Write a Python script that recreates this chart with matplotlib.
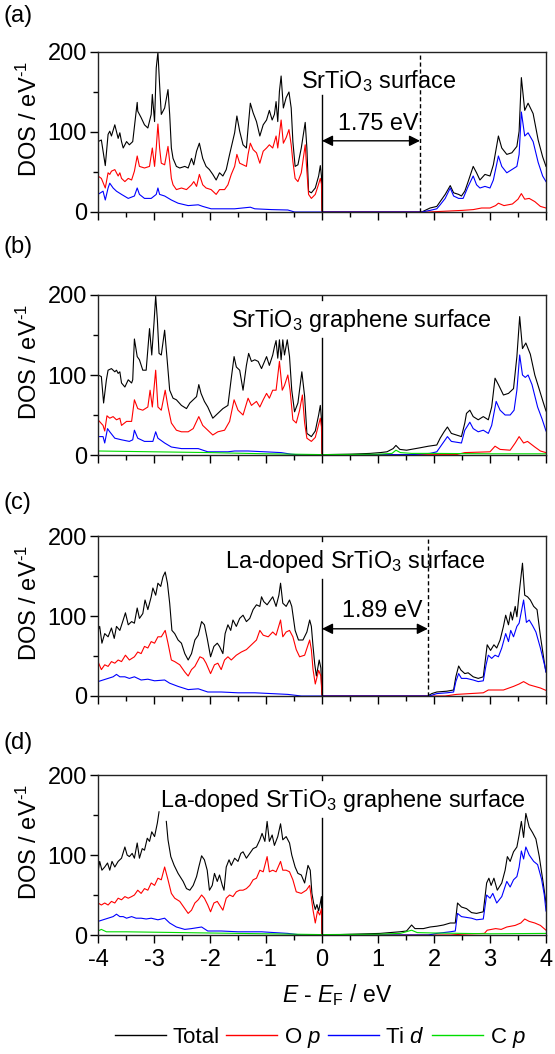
import numpy as np
import matplotlib
matplotlib.use("Agg")
import matplotlib.pyplot as plt
from matplotlib.ticker import MultipleLocator
from matplotlib.lines import Line2D

plt.rcParams['font.family'] = ['Liberation Sans', 'DejaVu Sans']
plt.rcParams['mathtext.fontset'] = 'custom'
plt.rcParams['mathtext.rm'] = 'Liberation Sans'
plt.rcParams['mathtext.it'] = 'Liberation Sans:italic'
plt.rcParams['mathtext.bf'] = 'Liberation Sans:bold'
plt.rcParams['axes.unicode_minus'] = False

nan = np.nan

# ---------------- data: (E - E_F [eV], DOS [1/eV]) ----------------
# (a) SrTiO3 surface
a_total = [(-4.00, 88), (-3.94, 90), (-3.87, 58), (-3.82, 97), (-3.79, 101), (-3.76, 95), (-3.70, 109),
           (-3.64, 92), (-3.61, 99), (-3.58, 88), (-3.55, 80), (-3.49, 88), (-3.44, 84), (-3.38, 88),
           (-3.30, 137), (-3.29, 126), (-3.23, 118), (-3.17, 109), (-3.11, 105), (-3.05, 122), (-3.03, 147),
           (-2.99, 113), (-2.96, 180), (-2.93, 200), (-2.90, 159), (-2.87, 122), (-2.81, 130), (-2.75, 153),
           (-2.72, 122), (-2.69, 80), (-2.66, 67), (-2.60, 57), (-2.54, 55), (-2.45, 57), (-2.39, 55),
           (-2.33, 67), (-2.29, 59), (-2.24, 76), (-2.19, 86), (-2.13, 67), (-2.07, 57), (-2.01, 53),
           (-1.95, 47), (-1.89, 40), (-1.83, 49), (-1.77, 45), (-1.71, 53), (-1.65, 72), (-1.61, 84),
           (-1.56, 99), (-1.52, 120), (-1.47, 101), (-1.41, 84), (-1.35, 80), (-1.32, 105), (-1.28, 136),
           (-1.23, 124), (-1.17, 113), (-1.11, 95), (-1.05, 109), (-0.99, 115), (-0.94, 127), (-0.89, 115),
           (-0.85, 122), (-0.82, 138), (-0.79, 113), (-0.76, 151), (-0.73, 170), (-0.69, 130), (-0.64, 143),
           (-0.59, 150), (-0.55, 130), (-0.52, 88), (-0.48, 57), (-0.43, 59), (-0.37, 80), (-0.30, 112),
           (-0.27, 80), (-0.24, 26), (-0.19, 24), (-0.12, 30), (-0.06, 45), (-0.03, 58), (-0.01, 45),
           (0.00, 0), (1.78, 0), (1.93, 5), (2.05, 7), (2.11, 13), (2.20, 22), (2.29, 33), (2.35, 24),
           (2.44, 22), (2.49, 20), (2.55, 26), (2.61, 38), (2.70, 57), (2.76, 49), (2.82, 40), (2.91, 47),
           (3.00, 45), (3.06, 59), (3.15, 95), (3.21, 80), (3.30, 72), (3.39, 74), (3.48, 82), (3.52, 101),
           (3.56, 168), (3.62, 127), (3.68, 136), (3.77, 123), (3.86, 90), (3.94, 69), (4.00, 57)]
a_op = [(-4.00, 45), (-3.94, 42), (-3.87, 30), (-3.82, 49), (-3.79, 47), (-3.76, 51), (-3.70, 53),
        (-3.64, 45), (-3.61, 49), (-3.58, 42), (-3.52, 38), (-3.46, 42), (-3.40, 40), (-3.35, 51),
        (-3.30, 70), (-3.26, 57), (-3.17, 55), (-3.08, 57), (-3.03, 80), (-2.99, 57), (-2.96, 80),
        (-2.93, 110), (-2.90, 80), (-2.87, 61), (-2.81, 59), (-2.75, 82), (-2.72, 63), (-2.69, 42),
        (-2.66, 34), (-2.60, 28), (-2.51, 30), (-2.42, 28), (-2.33, 34), (-2.29, 38), (-2.24, 32),
        (-2.19, 47), (-2.13, 34), (-2.07, 30), (-1.98, 28), (-1.89, 22), (-1.83, 28), (-1.74, 28),
        (-1.68, 34), (-1.62, 47), (-1.56, 57), (-1.52, 72), (-1.47, 61), (-1.41, 59), (-1.35, 57),
        (-1.32, 72), (-1.28, 86), (-1.23, 78), (-1.17, 74), (-1.11, 61), (-1.05, 76), (-0.99, 80),
        (-0.94, 84), (-0.88, 80), (-0.82, 95), (-0.79, 80), (-0.73, 115), (-0.69, 86), (-0.64, 93),
        (-0.59, 103), (-0.55, 84), (-0.52, 63), (-0.48, 42), (-0.43, 38), (-0.37, 49), (-0.30, 84),
        (-0.27, 51), (-0.24, 22), (-0.19, 17), (-0.12, 22), (-0.06, 35), (-0.03, 42), (-0.01, 35),
        (0.00, 0), (1.90, 0), (2.20, 1), (2.50, 2), (2.70, 3), (2.85, 5), (3.00, 5), (3.10, 8),
        (3.15, 11), (3.25, 8), (3.40, 10), (3.50, 16), (3.56, 23), (3.62, 16), (3.70, 17), (3.80, 13),
        (3.90, 7), (4.00, 5)]
a_tid = [(-4.00, 22), (-3.91, 26), (-3.87, 15), (-3.82, 30), (-3.79, 36), (-3.73, 30), (-3.67, 26),
         (-3.58, 22), (-3.46, 17), (-3.35, 20), (-3.30, 30), (-3.26, 22), (-3.17, 17), (-3.05, 17),
         (-2.96, 22), (-2.93, 30), (-2.90, 22), (-2.81, 20), (-2.69, 15), (-2.57, 11), (-2.39, 8),
         (-2.21, 9), (-2.13, 7), (-1.98, 4), (-1.80, 4), (-1.56, 4), (-1.28, 6), (-1.20, 4), (-0.90, 3),
         (-0.61, 2.5), (-0.49, 0), (1.78, 0), (1.93, 2), (2.05, 4), (2.11, 9), (2.20, 17), (2.29, 30),
         (2.35, 20), (2.44, 17), (2.52, 17), (2.61, 32), (2.70, 45), (2.76, 34), (2.82, 30), (2.91, 32),
         (3.00, 30), (3.06, 40), (3.15, 70), (3.21, 57), (3.30, 49), (3.39, 53), (3.48, 57), (3.52, 72),
         (3.56, 125), (3.62, 95), (3.68, 99), (3.77, 88), (3.86, 62), (3.94, 45), (4.00, 38)]

# (b) SrTiO3 graphene surface
b_total = [(-4.00, 100), (-3.94, 98), (-3.90, 65), (-3.85, 94), (-3.82, 106), (-3.76, 108), (-3.70, 104),
           (-3.67, 106), (-3.64, 102), (-3.61, 104), (-3.58, 90), (-3.52, 85), (-3.46, 94), (-3.40, 90),
           (-3.38, 94), (-3.35, 145), (-3.30, 123), (-3.26, 119), (-3.20, 106), (-3.14, 106), (-3.08, 158),
           (-3.04, 125), (-3.00, 165), (-2.97, 199), (-2.94, 169), (-2.91, 127), (-2.87, 125), (-2.81, 156),
           (-2.77, 123), (-2.72, 81), (-2.66, 71), (-2.60, 69), (-2.51, 62), (-2.42, 58), (-2.36, 65),
           (-2.30, 69), (-2.24, 73), (-2.20, 88), (-2.16, 77), (-2.10, 67), (-2.04, 60), (-1.95, 46),
           (-1.86, 52), (-1.77, 58), (-1.68, 62), (-1.62, 96), (-1.57, 123), (-1.53, 110), (-1.47, 106),
           (-1.41, 81), (-1.35, 112), (-1.31, 127), (-1.26, 117), (-1.20, 119), (-1.14, 117), (-1.08, 108),
           (-0.99, 123), (-0.94, 112), (-0.88, 125), (-0.85, 135), (-0.82, 143), (-0.79, 121), (-0.76, 144),
           (-0.73, 119), (-0.70, 144), (-0.67, 125), (-0.62, 144), (-0.58, 123), (-0.54, 81), (-0.49, 54),
           (-0.43, 65), (-0.36, 104), (-0.31, 73), (-0.27, 27), (-0.19, 23), (-0.12, 30), (-0.06, 50),
           (-0.03, 62), (-0.01, 45), (0.00, 0), (0.05, 0.5), (0.50, 1), (0.86, 2), (1.04, 3), (1.16, 4),
           (1.27, 8), (1.32, 12), (1.39, 7), (1.51, 6), (1.63, 7.5), (1.75, 9), (1.90, 11), (2.05, 12.5),
           (2.11, 21), (2.18, 29), (2.24, 35), (2.31, 27), (2.40, 25), (2.49, 23), (2.55, 40), (2.58, 52),
           (2.64, 56), (2.70, 48), (2.79, 44), (2.88, 48), (2.97, 44), (3.03, 60), (3.09, 96), (3.15, 88),
           (3.24, 75), (3.33, 77), (3.42, 83), (3.48, 123), (3.53, 173), (3.58, 133), (3.64, 140),
           (3.72, 126), (3.80, 100), (3.88, 82), (3.95, 66), (4.00, 55)]
b_op = [(-4.00, 44), (-3.91, 37), (-3.88, 30), (-3.84, 49), (-3.79, 46), (-3.73, 48), (-3.67, 44),
        (-3.61, 46), (-3.58, 37), (-3.49, 42), (-3.40, 42), (-3.35, 69), (-3.29, 58), (-3.20, 56),
        (-3.11, 60), (-3.07, 81), (-3.03, 60), (-2.97, 106), (-2.93, 60), (-2.87, 56), (-2.80, 81),
        (-2.75, 60), (-2.69, 40), (-2.60, 31), (-2.51, 29), (-2.39, 29), (-2.30, 33), (-2.20, 48),
        (-2.13, 37), (-2.04, 31), (-1.95, 25), (-1.86, 29), (-1.74, 31), (-1.65, 42), (-1.57, 69),
        (-1.50, 56), (-1.41, 50), (-1.32, 71), (-1.26, 62), (-1.17, 67), (-1.11, 60), (-1.05, 69),
        (-0.99, 77), (-0.94, 71), (-0.88, 81), (-0.82, 81), (-0.76, 117), (-0.71, 81), (-0.67, 87),
        (-0.61, 100), (-0.57, 81), (-0.52, 44), (-0.46, 40), (-0.40, 56), (-0.35, 75), (-0.31, 40),
        (-0.27, 21), (-0.19, 17), (-0.12, 22), (-0.06, 38), (-0.03, 46), (-0.01, 35), (0.00, 0),
        (2.40, 0.5), (2.55, 3), (3.00, 4), (3.09, 11), (3.18, 7), (3.36, 6), (3.45, 15), (3.52, 23),
        (3.60, 15), (3.67, 17), (3.80, 10), (3.90, 5), (4.00, 3)]
b_tid = [(-4.00, 23), (-3.91, 23), (-3.88, 15), (-3.83, 33), (-3.79, 29), (-3.70, 21), (-3.58, 19),
         (-3.44, 17), (-3.38, 19), (-3.35, 31), (-3.29, 21), (-3.17, 17), (-3.02, 17), (-2.97, 29),
         (-2.93, 21), (-2.81, 15), (-2.69, 10), (-2.51, 8), (-2.21, 8), (-2.04, 4), (-1.68, 4), (-1.56, 5),
         (-1.32, 5), (-1.02, 4), (-0.73, 3), (-0.55, 1), (-0.37, 0), (1.60, 0.5), (1.93, 2), (2.05, 4),
         (2.11, 10), (2.18, 17), (2.24, 23), (2.31, 17), (2.49, 15), (2.55, 31), (2.64, 41), (2.70, 33),
         (2.79, 29), (2.88, 31), (2.97, 27), (3.03, 37), (3.11, 67), (3.18, 56), (3.27, 50), (3.36, 50),
         (3.43, 56), (3.48, 81), (3.53, 125), (3.58, 100), (3.63, 97), (3.68, 100), (3.75, 88),
         (3.85, 60), (3.93, 45), (4.00, 30)]
b_cp = [(-4.00, 5), (-3.50, 4.5), (-3.00, 4), (-2.00, 3), (-1.00, 1.5), (0.00, 0.5), (1.00, 1),
        (1.25, 2), (1.32, 6), (1.40, 3), (1.60, 2), (2.00, 2), (3.00, 1.5), (4.00, 1.5)]

# (c) La-doped SrTiO3 surface
c_total = [(-4.00, 82), (-3.97, 87), (-3.93, 66), (-3.88, 78), (-3.82, 74), (-3.76, 85), (-3.71, 72),
           (-3.67, 87), (-3.61, 82), (-3.55, 95), (-3.51, 104), (-3.46, 89), (-3.40, 93), (-3.35, 91),
           (-3.30, 110), (-3.26, 97), (-3.20, 103), (-3.16, 120), (-3.11, 108), (-3.05, 124), (-3.02, 135),
           (-2.97, 126), (-2.93, 141), (-2.88, 137), (-2.84, 149), (-2.80, 155), (-2.76, 141), (-2.72, 116),
           (-2.68, 82), (-2.63, 78), (-2.57, 70), (-2.51, 66), (-2.45, 53), (-2.39, 45), (-2.33, 53),
           (-2.27, 70), (-2.21, 76), (-2.15, 93), (-2.10, 89), (-2.05, 72), (-1.99, 49), (-1.93, 62),
           (-1.87, 66), (-1.83, 62), (-1.77, 53), (-1.73, 78), (-1.68, 89), (-1.63, 82), (-1.59, 95),
           (-1.53, 87), (-1.47, 97), (-1.41, 101), (-1.35, 93), (-1.29, 97), (-1.23, 108), (-1.17, 114),
           (-1.11, 112), (-1.08, 124), (-1.04, 118), (-0.98, 114), (-0.92, 120), (-0.88, 124), (-0.82, 112),
           (-0.77, 126), (-0.74, 141), (-0.70, 116), (-0.64, 112), (-0.58, 120), (-0.54, 112), (-0.48, 82),
           (-0.42, 70), (-0.34, 70), (-0.27, 80), (-0.22, 95), (-0.19, 87), (-0.16, 62), (-0.13, 40),
           (-0.10, 25), (-0.05, 45), (-0.02, 35), (0.00, 0), (1.89, 0), (1.96, 3), (2.05, 5), (2.23, 6),
           (2.35, 7.5), (2.39, 24), (2.44, 37.5), (2.48, 32.5), (2.55, 28), (2.61, 29), (2.70, 24),
           (2.79, 22), (2.88, 24), (2.91, 41), (2.95, 64), (3.01, 57), (3.07, 64), (3.12, 60), (3.18, 70),
           (3.24, 87), (3.28, 101), (3.33, 89), (3.37, 105), (3.40, 95), (3.45, 112), (3.48, 99),
           (3.52, 128), (3.58, 166), (3.62, 126), (3.67, 124), (3.72, 120), (3.78, 112), (3.84, 108),
           (3.90, 75), (3.97, 42), (4.00, 30)]
c_op = [(-4.00, 43), (-3.94, 33), (-3.88, 39), (-3.82, 37), (-3.76, 43), (-3.70, 41), (-3.64, 45),
        (-3.58, 43), (-3.51, 51), (-3.44, 45), (-3.35, 49), (-3.29, 55), (-3.23, 53), (-3.17, 62),
        (-3.11, 60), (-3.05, 68), (-2.99, 66), (-2.93, 74), (-2.87, 74), (-2.80, 82), (-2.75, 66),
        (-2.69, 45), (-2.63, 43), (-2.54, 39), (-2.45, 30), (-2.39, 25), (-2.33, 33), (-2.27, 37),
        (-2.18, 49), (-2.12, 47), (-2.07, 41), (-1.99, 28), (-1.92, 39), (-1.86, 41), (-1.80, 33),
        (-1.74, 45), (-1.68, 49), (-1.62, 45), (-1.53, 51), (-1.44, 55), (-1.35, 58), (-1.26, 64),
        (-1.17, 70), (-1.11, 82), (-1.05, 76), (-0.96, 74), (-0.88, 80), (-0.82, 76), (-0.74, 95),
        (-0.70, 74), (-0.64, 80), (-0.58, 82), (-0.52, 74), (-0.46, 58), (-0.40, 49), (-0.31, 51),
        (-0.22, 70), (-0.19, 58), (-0.16, 33), (-0.12, 15), (-0.06, 32), (-0.02, 25), (0.00, 0),
        (2.20, 0), (2.40, 2), (2.64, 3), (2.88, 4), (2.97, 7.5), (3.24, 7.5), (3.42, 12), (3.52, 15),
        (3.60, 18), (3.70, 14), (3.80, 12), (3.90, 10), (4.00, 7)]
c_tid = [(-4.00, 18), (-3.91, 20), (-3.82, 22), (-3.73, 24), (-3.67, 27), (-3.61, 24), (-3.52, 24),
         (-3.44, 22), (-3.35, 24), (-3.23, 20), (-3.11, 21), (-2.99, 19), (-2.81, 20), (-2.72, 16),
         (-2.57, 12), (-2.39, 8), (-2.21, 9), (-2.04, 5), (-1.80, 5), (-1.50, 4), (-1.20, 4), (-0.90, 3),
         (-0.61, 2), (-0.37, 0), (1.89, 0), (1.96, 1), (2.05, 3), (2.23, 4), (2.35, 5), (2.39, 18),
         (2.44, 28), (2.49, 22), (2.58, 22), (2.70, 20), (2.79, 18), (2.88, 19), (2.93, 39), (2.97, 51),
         (3.03, 47), (3.09, 51), (3.15, 49), (3.21, 60), (3.28, 78), (3.33, 68), (3.37, 82), (3.42, 74),
         (3.48, 87), (3.52, 91), (3.60, 120), (3.65, 92), (3.70, 95), (3.76, 88), (3.82, 80), (3.90, 60),
         (3.97, 40), (4.00, 30)]

# (d) La-doped SrTiO3 graphene surface
d_total = [(-4.00, 79), (-3.97, 92), (-3.93, 81), (-3.88, 85), (-3.83, 90), (-3.79, 81), (-3.75, 92),
           (-3.70, 85), (-3.64, 92), (-3.58, 96), (-3.52, 110), (-3.48, 100), (-3.44, 98), (-3.39, 102),
           (-3.35, 96), (-3.30, 115), (-3.26, 96), (-3.21, 108), (-3.17, 106), (-3.12, 121), (-3.08, 117),
           (-3.04, 129), (-2.99, 123), (-2.94, 140), (-2.91, 154), (-2.85, nan), (-2.78, 142), (-2.75, 119),
           (-2.70, 98), (-2.64, 87), (-2.57, 77), (-2.48, 67), (-2.42, 58), (-2.36, 56), (-2.30, 62),
           (-2.24, 73), (-2.20, 85), (-2.15, 99), (-2.10, 94), (-2.05, 81), (-2.01, 56), (-1.96, 62),
           (-1.92, 77), (-1.87, 67), (-1.83, 75), (-1.78, 62), (-1.75, 56), (-1.71, 85), (-1.66, 94),
           (-1.62, 87), (-1.56, 96), (-1.50, 92), (-1.45, 102), (-1.41, 104), (-1.35, 96), (-1.29, 102),
           (-1.23, 108), (-1.17, 110), (-1.11, 119), (-1.07, 127), (-1.02, 117), (-0.98, 142), (-0.94, 117),
           (-0.89, 125), (-0.85, 112), (-0.79, 123), (-0.74, 139), (-0.70, 119), (-0.64, 123), (-0.58, 115),
           (-0.54, 100), (-0.48, 85), (-0.43, 77), (-0.37, 75), (-0.31, 65), (-0.25, 87), (-0.21, 81),
           (-0.18, 52), (-0.15, 40), (-0.12, 32), (-0.09, 38), (-0.06, 30), (-0.03, 40), (-0.01, 48),
           (0.00, 0), (0.30, 0.5), (1.04, 2), (1.21, 3), (1.39, 4), (1.51, 5), (1.60, 12.5), (1.66, 8),
           (1.81, 8), (1.93, 10), (2.05, 11), (2.17, 12.5), (2.29, 15), (2.38, 15), (2.42, 40), (2.49, 35),
           (2.58, 33), (2.67, 28), (2.76, 27), (2.88, 29), (2.94, 65), (2.98, 71), (3.02, 62), (3.07, 71),
           (3.13, 56), (3.21, 65), (3.27, 81), (3.31, 98), (3.36, 92), (3.42, 104), (3.48, 110),
           (3.52, 125), (3.56, 142), (3.60, 122), (3.64, 152), (3.70, 135), (3.76, 128), (3.82, 120),
           (3.88, 98), (3.95, 65), (4.00, 40)]
d_op = [(-4.00, 40), (-3.94, 37.5), (-3.88, 40), (-3.82, 37.5), (-3.76, 42), (-3.70, 40), (-3.64, 46),
        (-3.58, 44), (-3.52, 48), (-3.46, 46), (-3.40, 48), (-3.35, 50), (-3.29, 56), (-3.23, 52),
        (-3.17, 58), (-3.11, 56), (-3.05, 65), (-2.99, 62), (-2.93, 71), (-2.87, 69), (-2.81, 85),
        (-2.75, 69), (-2.69, 52), (-2.63, 46), (-2.54, 42), (-2.45, 33), (-2.39, 27), (-2.33, 31),
        (-2.27, 40), (-2.21, 44), (-2.15, 50), (-2.10, 46), (-2.04, 37.5), (-1.99, 29), (-1.93, 40),
        (-1.87, 42), (-1.83, 37.5), (-1.77, 31), (-1.71, 46), (-1.65, 50), (-1.59, 48), (-1.53, 54),
        (-1.47, 56), (-1.41, 56), (-1.35, 58), (-1.29, 62), (-1.23, 69), (-1.17, 71), (-1.11, 81),
        (-1.05, 79), (-0.98, 98), (-0.94, 79), (-0.88, 81), (-0.82, 79), (-0.74, 92), (-0.70, 81),
        (-0.64, 81), (-0.58, 79), (-0.52, 69), (-0.46, 54), (-0.37, 52), (-0.28, 56), (-0.22, 62),
        (-0.16, 31), (-0.12, 15), (-0.08, 30), (-0.04, 25), (-0.01, 33), (0.00, 0), (2.30, 0),
        (2.50, 1), (2.90, 2), (2.95, 6), (3.10, 8), (3.20, 7), (3.30, 10), (3.45, 12), (3.55, 15),
        (3.62, 20), (3.70, 17), (3.80, 15), (3.90, 12), (4.00, 6)]
d_tid = [(-4.00, 17), (-3.91, 19), (-3.82, 21), (-3.73, 23), (-3.67, 26), (-3.61, 23), (-3.55, 23),
         (-3.49, 21), (-3.40, 23), (-3.32, 21), (-3.23, 21), (-3.14, 20), (-3.05, 21), (-2.93, 19),
         (-2.81, 21), (-2.72, 15), (-2.60, 10), (-2.45, 7), (-2.33, 8), (-2.15, 10), (-2.04, 5),
         (-1.80, 5), (-1.50, 4), (-1.08, 4), (-0.85, 3), (-0.61, 2), (-0.37, 0), (1.90, 0), (2.05, 2),
         (2.29, 4), (2.38, 5), (2.42, 27), (2.49, 23), (2.58, 22), (2.67, 21), (2.76, 19), (2.88, 20),
         (2.94, 50), (3.00, 46), (3.05, 52), (3.12, 40), (3.21, 48), (3.30, 67), (3.36, 60), (3.42, 69),
         (3.48, 73), (3.52, 85), (3.56, 105), (3.60, 95), (3.64, 110), (3.70, 100), (3.78, 92),
         (3.85, 88), (3.92, 70), (3.97, 50), (4.00, 30)]
d_cp = [(-4.00, 5), (-3.94, 7), (-3.85, 4), (-3.50, 4), (-3.00, 3.5), (-2.00, 2.5), (-1.00, 1.5),
        (0.00, 0.5), (1.00, 1), (1.40, 2), (1.60, 6), (1.70, 3), (2.00, 2.5), (2.50, 2), (3.00, 1.5),
        (4.00, 2)]

panel_letters = ['(a)', '(b)', '(c)', '(d)']
titles = ['SrTiO$_3$ surface', 'SrTiO$_3$ graphene surface',
          'La-doped SrTiO$_3$ surface', 'La-doped SrTiO$_3$ graphene surface']
title_x = [1.01, 0.70, 0.59, 0.37]
title_y = [155, 160, 160, 160]
gaps = [1.75, None, 1.89, None]
gap_text_x = [1.0, None, 1.08, None]
gap_text_y = [102, None, 99, None]
gap_arrow_y = [89, None, 84, None]

series = [(a_total, a_op, a_tid, None), (b_total, b_op, b_tid, b_cp),
          (c_total, c_op, c_tid, None), (d_total, d_op, d_tid, d_cp)]
colors = ['#000000', '#ff0000', '#0000ff', '#00dd00']
names = ['Total', 'O $\\mathit{p}$', 'Ti $\\mathit{d}$', 'C $\\mathit{p}$']

# ---------------- figure ----------------
W, H = 555, 1054
fig = plt.figure(figsize=(W / 100, H / 100), dpi=100)

ax_top_px = [52, 295, 536, 775]   # top edge of each panel in pixels
ax_h_px = 160
left_px, right_px = 98, 546

for i in range(4):
    top = ax_top_px[i]
    ax = fig.add_axes([left_px / W, 1 - (top + ax_h_px) / H, (right_px - left_px) / W, ax_h_px / H])

    for s, c in zip(series[i], colors):
        if s is None:
            continue
        e, d = np.array(s, dtype=float).T
        ax.plot(e, d, color=c, lw=0.8)

    # E_F line, broken where the title sits
    ax.plot([0, 0], [0, 146], color='k', lw=1.0)
    if i > 0:
        ax.plot([0, 0], [194, 200], color='k', lw=1.0)

    ax.text(title_x[i], title_y[i], titles[i], fontsize=16.8, ha='center', va='baseline')

    if gaps[i] is not None:
        ax.axvline(gaps[i], color='k', lw=1.0, ls=(0, (3, 2)))
        ax.text(gap_text_x[i], gap_text_y[i], '%.2f eV' % gaps[i], fontsize=16.8,
                ha='center', va='baseline')
        ax.annotate('', xy=(gaps[i], gap_arrow_y[i]), xytext=(0, gap_arrow_y[i]),
                    arrowprops=dict(arrowstyle='<|-|>', color='k', lw=1.0,
                                    mutation_scale=16, shrinkA=0, shrinkB=0))

    ax.set_xlim(-4, 4)
    ax.set_ylim(0, 200)
    ax.set_xticks(range(-4, 5))
    ax.xaxis.set_minor_locator(MultipleLocator(0.5))
    ax.set_yticks([0, 100, 200])
    ax.yaxis.set_minor_locator(MultipleLocator(50))
    ax.tick_params(which='major', direction='out', length=6, width=1.0, labelsize=17, pad=2)
    ax.tick_params(which='minor', direction='out', length=3.5, width=1.0)
    ax.tick_params(axis='x', labelbottom=(i == 3), pad=4)
    for sp in ax.spines.values():
        sp.set_linewidth(1.0)
        sp.set_color('#222222')

    ax.set_ylabel('DOS / eV$^{\\text{-}1}$', fontsize=17)
    ax.yaxis.set_label_coords(-0.125, 0.58)

    fig.text(0.006, 1 - [16, 247, 503, 743][i] / H, panel_letters[i], fontsize=17, va='center')

fig.text(337 / W, 1 - 995 / H, '$\\mathit{E}$ - $\\mathit{E}_\\mathrm{F}$ / eV', fontsize=16.5,
         ha='center', va='center')

handles = [Line2D([], [], color=c, lw=1.0) for c in colors]
fig.legend(handles, names, loc='center', bbox_to_anchor=(320 / W, 1 - 1038 / H), ncol=4,
           frameon=False, fontsize=16, handlelength=2.3, handletextpad=0.3, columnspacing=0.3,
           borderpad=0)

fig.savefig('out.png', dpi=100)
